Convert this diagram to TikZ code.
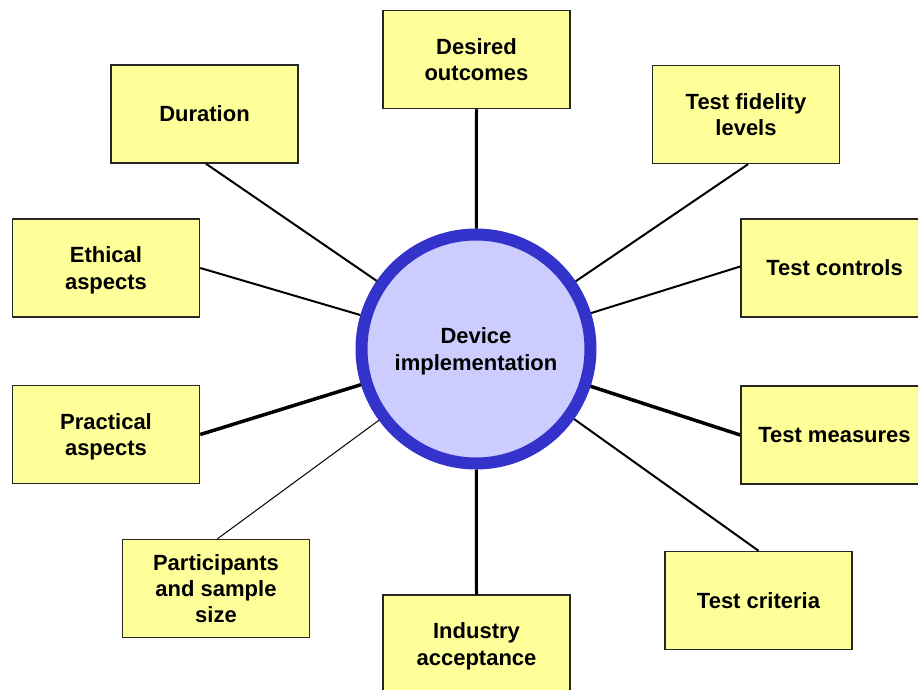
\documentclass[tikz,border=0pt]{standalone}
\usepackage{fontspec}
\setmainfont{Liberation Sans}
\definecolor{boxfill}{HTML}{FFFF99}
\definecolor{hubfill}{HTML}{CCCCFF}
\definecolor{hubline}{HTML}{3333CC}
\begin{document}
\begin{tikzpicture}[x=1pt,y=-1pt,
  box/.style={draw=black!85, line width=1.5pt, fill=boxfill, minimum width=187pt, minimum height=98pt,
    align=center, inner sep=0pt, text depth=-4pt, font=\fontsize{22}{26.2}\selectfont\bfseries},
  hub/.style={circle, draw=hubline, line width=12pt, fill=hubfill, minimum size=229pt, inner sep=0pt,
    align=center, text depth=-4pt, font=\fontsize{22}{26.2}\selectfont\bfseries},
  link/.style={line width=2pt},
  linkvert/.style={line width=3pt},
  linkthick/.style={line width=3.5pt},
  linkthin/.style={line width=1pt}]
\useasboundingbox (0,0) rectangle (918,690);
\node[box] (des) at (476.5,59.5) {Desired\\outcomes};
\node[box] (dur) at (204.5,114) {Duration};
\node[box] (fid) at (746,114.5) {Test fidelity\\levels};
\node[box] (eth) at (106,268) {Ethical\\aspects};
\node[box] (ctl) at (834.5,268) {Test controls};
\node[box] (pra) at (106,434.5) {Practical\\aspects};
\node[box] (mea) at (834.5,435) {Test measures};
\node[box] (par) at (216,588.5) {Participants\\and sample\\size};
\node[box] (ind) at (476.5,644) {Industry\\acceptance};
\node[box] (cri) at (758.5,600.5) {Test criteria};
\node[hub] (hub) at (476,349) {Device\\implementation};
\draw[linkvert] (des.south) -- (hub);
\draw[link] ([xshift=1.5pt]dur.south) -- (hub);
\draw[link] ([xshift=2pt]fid.south) -- (hub);
\draw[link] (eth.east) -- (hub);
\draw[link] ([yshift=1.5pt]ctl.west) -- (hub);
\draw[linkthick] (pra.east) -- (hub);
\draw[linkthick] (mea.west) -- (hub);
\draw[linkthin] ([xshift=1.5pt]par.north) -- (hub);
\draw[linkvert] (ind.north) -- (hub);
\draw[link] (cri.north) -- (hub);
\end{tikzpicture}
\end{document}
